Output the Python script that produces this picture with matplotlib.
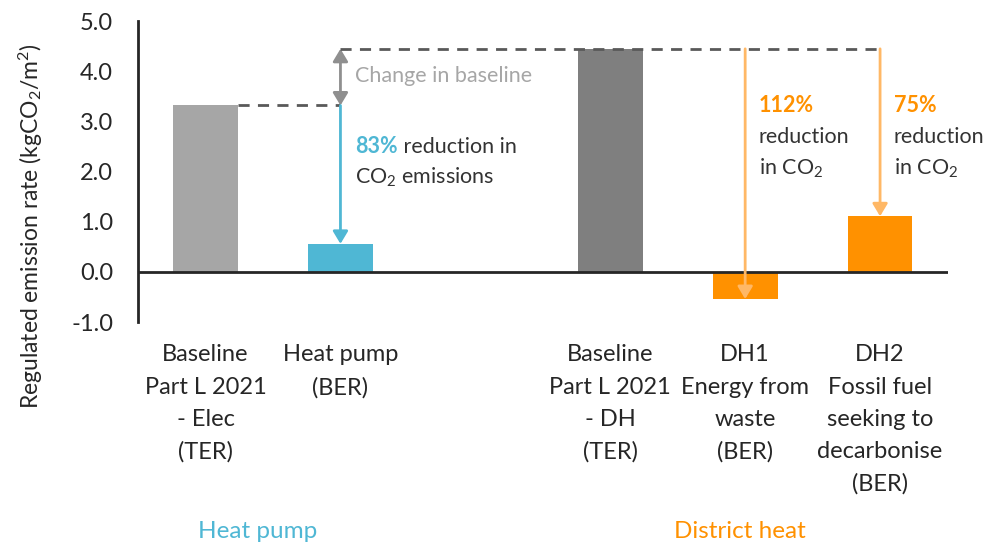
import numpy as np
import matplotlib
matplotlib.use("Agg")
import matplotlib.pyplot as plt

plt.rcParams["font.family"] = ["Lato", "DejaVu Sans"]
plt.rcParams["mathtext.fontset"] = "custom"
plt.rcParams["mathtext.rm"] = "Lato"
plt.rcParams["mathtext.it"] = "Lato:italic"
plt.rcParams["mathtext.bf"] = "Lato:bold"

# Regulated emission rates (kgCO2/m2); the empty slot splits the two groups
categories = [
    "Baseline\nPart L 2021\n- Elec\n(TER)",
    "Heat pump\n(BER)",
    "",
    "Baseline\nPart L 2021\n- DH\n(TER)",
    "DH1\nEnergy from\nwaste\n(BER)",
    "DH2\nFossil fuel\nseeking to\ndecarbonise\n(BER)",
]
values = [3.32, 0.56, np.nan, 4.45, -0.54, 1.11]
colors = ["#a6a6a6", "#4fb7d4", "none", "#7f7f7f", "#ff9100", "#ff9100"]

groups = ["Heat pump", "District heat"]
group_colors = ["#4fb7d4", "#ff9100"]

reductions = ["83%", "112%", "75%"]

BLUE = "#4fb7d4"
ORANGE = "#ff9100"
LIGHT_ORANGE = "#ffb866"
DARK = "#262626"
TEXT = "#333333"
FS = 15.5

fig = plt.figure(figsize=(10.08, 5.45), dpi=100)
ax = fig.add_axes([0.137, 0.409, 0.803, 0.552])

x = np.arange(len(categories))
ax.bar(x, values, width=0.48, color=colors, zorder=2)

ax.set_xlim(-0.5, len(categories) - 0.5)
ax.set_ylim(-1, 5)
ax.set_yticks(np.arange(-1, 5.01, 1.0))
ax.set_yticklabels([f"{v:.1f}" for v in np.arange(-1, 5.01, 1.0)])
ax.tick_params(axis="y", length=0, pad=18, labelsize=17, labelcolor=DARK)

ax.set_xticks(x)
ax.set_xticklabels(categories)
ax.tick_params(axis="x", length=0, pad=16, labelsize=17, labelcolor=DARK)
for lbl in ax.get_xticklabels():
    lbl.set_linespacing(1.66)
    lbl.set_verticalalignment("top")

for s in ["top", "right", "bottom"]:
    ax.spines[s].set_visible(False)
ax.spines["left"].set_color(DARK)
ax.spines["left"].set_linewidth(2)
ax.axhline(0, color=DARK, linewidth=2, zorder=3)

ax.set_ylabel(r"Regulated emission rate (kgCO$_2$/m$^2$)", fontsize=16.5,
              color=DARK)
ax.yaxis.set_label_coords(-0.115, 0.32)

elec_base, hp, dh_base, dh1, dh2 = values[0], values[1], values[3], values[4], values[5]
w = 0.24

# baseline guide lines
ax.plot([x[0] + w, x[1]], [elec_base, elec_base], ls=(0, (4, 3)),
        color="#595959", lw=2, zorder=4)
ax.plot([x[1], x[5]], [dh_base, dh_base], ls=(0, (4, 3)),
        color="#595959", lw=2, zorder=4)

head = "head_length=0.75,head_width=0.45"

# change in baseline
ax.annotate("", xy=(x[1], dh_base), xytext=(x[1], elec_base),
            arrowprops=dict(arrowstyle="<|-|>," + head,
                            color="#8f8f8f", lw=2, shrinkA=0, shrinkB=0))
ax.text(x[1] + 0.11, 3.9, "Change in baseline", color="#a6a6a6",
        fontsize=FS, va="center", ha="left")

# reduction arrows
ax.annotate("", xy=(x[1], hp), xytext=(x[1], elec_base),
            arrowprops=dict(arrowstyle="-|>," + head,
                            color=BLUE, lw=2, shrinkA=0, shrinkB=0), zorder=5)
ax.annotate("", xy=(x[4], dh1), xytext=(x[4], dh_base),
            arrowprops=dict(arrowstyle="-|>," + head,
                            color=LIGHT_ORANGE, lw=2, shrinkA=0, shrinkB=0),
            zorder=5)
ax.annotate("", xy=(x[5], dh2), xytext=(x[5], dh_base),
            arrowprops=dict(arrowstyle="-|>," + head,
                            color=LIGHT_ORANGE, lw=2, shrinkA=0, shrinkB=0),
            zorder=5)

# reduction notes
t = ax.text(x[1] + 0.11, 2.5, reductions[0], color=BLUE, fontsize=FS,
            fontweight="bold", va="center", ha="left")
ax.annotate(" reduction in", xycoords=t, xy=(1, 0.5), va="center", ha="left",
            fontsize=FS, color=TEXT)
ax.text(x[1] + 0.11, 1.88, r"CO$_2$ emissions", color=TEXT, fontsize=FS,
        va="center", ha="left")

for xi, pct in [(x[4], reductions[1]), (x[5], reductions[2])]:
    ax.text(xi + 0.1, 3.32, pct, color=ORANGE, fontsize=FS, fontweight="bold",
            va="center", ha="left")
    ax.text(xi + 0.1, 2.7, "reduction", color=TEXT, fontsize=FS,
            va="center", ha="left")
    ax.text(xi + 0.1, 2.06, r"in CO$_2$", color=TEXT, fontsize=FS,
            va="center", ha="left")

# group titles
fig.text(258 / 1008, 1 - 531 / 545, groups[0], color=group_colors[0],
         fontsize=17.5, ha="center", va="center")
fig.text(740 / 1008, 1 - 531 / 545, groups[1], color=group_colors[1],
         fontsize=17.5, ha="center", va="center")

fig.savefig("out.png", dpi=100)
